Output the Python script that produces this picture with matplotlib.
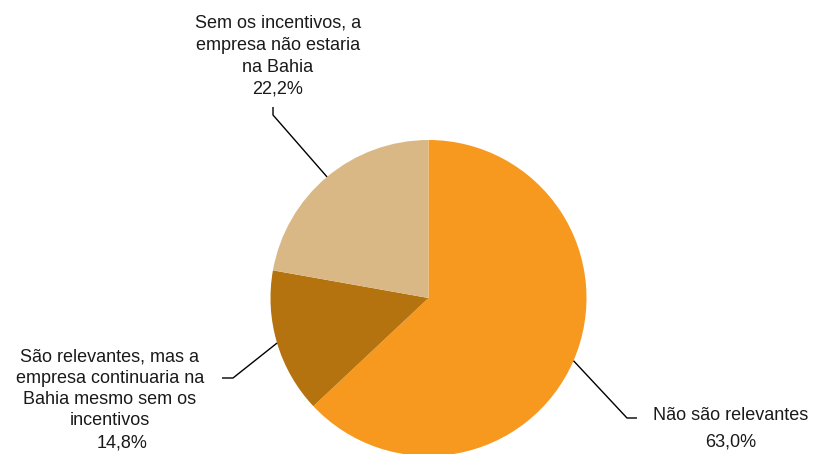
import numpy as np
import matplotlib
matplotlib.use("Agg")
import matplotlib.pyplot as plt

plt.rcParams["font.family"] = ["Liberation Sans", "DejaVu Sans"]

# --- data ---
labels = ["Não são relevantes",
          "São relevantes, mas a\nempresa continuaria na\nBahia mesmo sem os\nincentivos",
          "Sem os incentivos, a\nempresa não estaria\nna Bahia"]
shares = [63.0, 14.8, 22.2]
colors = ["#F7991F", "#B5730F", "#D9B886"]

W, H = 817, 454
fig = plt.figure(figsize=(W / 100, H / 100), dpi=100)
ax = fig.add_axes([0, 0, 1, 1])

CX, CY, R = 428.5, H - 298, 158
wedges, _ = ax.pie(shares, colors=colors, startangle=90, counterclock=False,
                   center=(CX, CY), radius=R, frame=True,
                   wedgeprops=dict(linewidth=0))
ax.set_xlim(0, W); ax.set_ylim(0, H); ax.set_aspect("equal")
ax.axis("off")

# leader lines start at each wedge's mid-angle on the rim;
# (elbow, end) in pixel coords, y down
elbows = [((627, 418), (637, 418)),
          ((233, 378), (222, 378)),
          ((273, 115), (273, 107))]
for w, (elb, end) in zip(wedges, elbows):
    mid = np.deg2rad((w.theta1 + w.theta2) / 2)
    x0, y0 = CX + R * np.cos(mid), CY + R * np.sin(mid)
    ax.plot([x0, elb[0], end[0]], [y0, H - elb[1], H - end[1]],
            color="black", lw=1.0, solid_capstyle="butt")

fs = 13
tc = "#1a1a1a"
pct = [("%.1f%%" % s).replace(".", ",") for s in shares]

ax.text(731, H - 416, labels[0], ha="center", va="center", fontsize=fs, color=tc)
ax.text(731, H - 442, pct[0], ha="center", va="center", fontsize=fs, color=tc)

ax.text(110, H - 389, labels[1], ha="center", va="center", fontsize=fs,
        color=tc, linespacing=1.33)
ax.text(122, H - 443, pct[1], ha="center", va="center", fontsize=fs, color=tc)

ax.text(278, H - 45, labels[2], ha="center", va="center", fontsize=fs,
        color=tc, linespacing=1.42)
ax.text(278, H - 89, pct[2], ha="center", va="center", fontsize=fs, color=tc)

fig.savefig("out.png", dpi=100)
